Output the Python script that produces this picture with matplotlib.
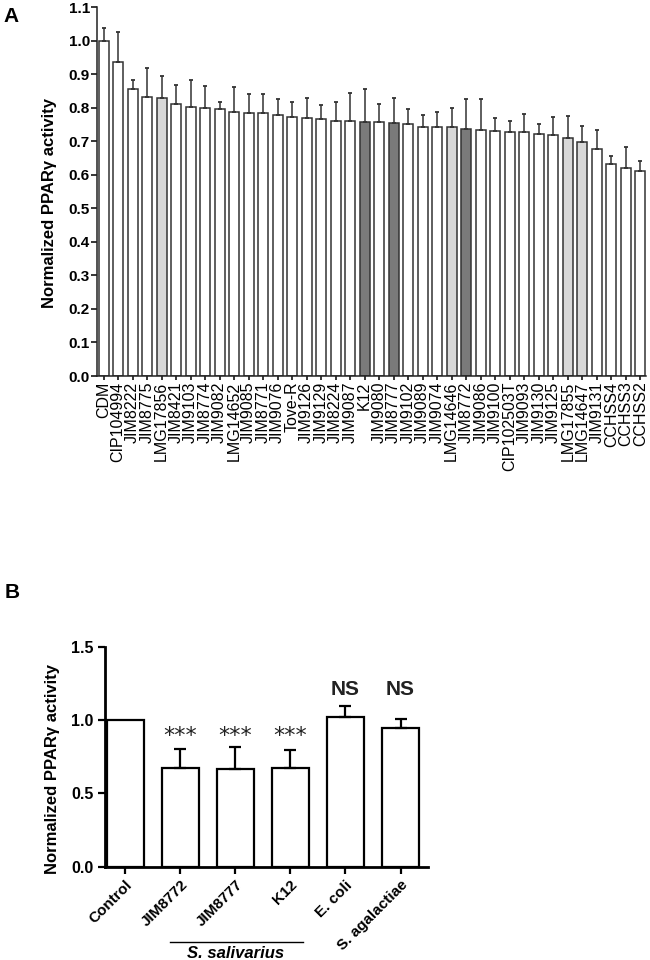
import numpy as np
import matplotlib
matplotlib.use("Agg")
import matplotlib.pyplot as plt

plt.rcParams["font.family"] = ["Liberation Sans", "DejaVu Sans"]

# panel A data
strains = ["CDM", "CIP104994", "JIM8222", "JIM8775", "LMG17856", "JIM8421", "JIM9103",
           "JIM8774", "JIM9082", "LMG14652", "JIM9085", "JIM8771", "JIM9076", "Tove-R",
           "JIM9126", "JIM9129", "JIM8224", "JIM9087", "K12", "JIM9080", "JIM8777",
           "JIM9102", "JIM9089", "JIM9074", "LMG14646", "JIM8772", "JIM9086", "JIM9100",
           "CIP102503T", "JIM9093", "JIM9130", "JIM9125", "LMG17855", "LMG14647",
           "JIM9131", "CCHSS4", "CCHSS3", "CCHSS2"]
activity_a = [1.000, 0.937, 0.856, 0.831, 0.828, 0.812, 0.802, 0.800, 0.796, 0.788,
              0.784, 0.784, 0.777, 0.773, 0.769, 0.765, 0.760, 0.760, 0.758, 0.757,
              0.754, 0.751, 0.743, 0.743, 0.741, 0.737, 0.734, 0.731, 0.728, 0.727,
              0.720, 0.719, 0.710, 0.698, 0.677, 0.632, 0.621, 0.611]
err_top_a = [1.038, 1.025, 0.881, 0.917, 0.893, 0.867, 0.883, 0.865, 0.817, 0.861,
             0.840, 0.842, 0.826, 0.817, 0.828, 0.808, 0.816, 0.844, 0.856, 0.812,
             0.830, 0.797, 0.777, 0.786, 0.800, 0.826, 0.825, 0.770, 0.759, 0.781,
             0.752, 0.772, 0.775, 0.745, 0.732, 0.657, 0.682, 0.640]
dark_strains = ["K12", "JIM8777", "JIM8772"]
light_strains = ["LMG17856", "LMG14646", "LMG17855", "LMG14647"]

# panel B data
groups_b = ["Control", "JIM8772", "JIM8777", "K12", "E. coli", "S. agalactiae"]
activity_b = [1.0, 0.675, 0.666, 0.675, 1.023, 0.948]
sem_b = [0.0, 0.130, 0.152, 0.118, 0.072, 0.059]
signif_b = ["", "***", "***", "***", "NS", "NS"]

fig = plt.figure(figsize=(6.5, 9.6), dpi=100)

# ---------------- Panel A ----------------
axA = fig.add_axes([0.149, 0.6083, 0.845, 0.3844])
xa = np.arange(len(strains))
colors = []
for s in strains:
    if s in dark_strains:
        colors.append("#7a7a7a")
    elif s in light_strains:
        colors.append("#d8d8d8")
    else:
        colors.append("white")
errs = np.array(err_top_a) - np.array(activity_a)
axA.bar(xa, activity_a, width=0.69, color=colors, edgecolor="#333333", linewidth=1.1)
axA.errorbar(xa, activity_a, yerr=[np.zeros(len(errs)), errs], fmt="none",
             ecolor="#333333", elinewidth=1.1, capsize=1.6, capthick=1.3)
axA.set_xlim(-0.46, len(strains) - 1 + 0.4)
axA.set_ylim(0, 1.1)
axA.set_yticks(np.arange(0, 1.11, 0.1))
axA.set_yticklabels([f"{v:.1f}" for v in np.arange(0, 1.11, 0.1)],
                    fontsize=11, fontweight="bold")
axA.set_xticks(xa)
axA.set_xticklabels(strains, rotation=90, fontsize=11.5)
axA.tick_params(axis="y", length=4, width=1.1, pad=1)
axA.tick_params(axis="x", length=3, width=1.1, pad=1)
for sp in ["top", "right"]:
    axA.spines[sp].set_visible(False)
for sp in ["left", "bottom"]:
    axA.spines[sp].set_linewidth(1.1)
    axA.spines[sp].set_color("#222222")
axA.set_ylabel("Normalized PPARγ activity", fontsize=12, fontweight="bold", va="center")
axA.yaxis.set_label_coords(-0.086, 0.469)
fig.text(11 / 650, 1 - 16 / 960, "A", fontsize=15, fontweight="bold",
         ha="center", va="center")

# ---------------- Panel B ----------------
axB = fig.add_axes([0.1615, 0.0972, 0.497, 0.2292])
xb = np.arange(len(groups_b))
axB.bar(xb, activity_b, width=0.67, color="white", edgecolor="black", linewidth=1.6)
axB.errorbar(xb[1:], activity_b[1:], yerr=[np.zeros(len(sem_b) - 1), sem_b[1:]],
             fmt="none", ecolor="black", elinewidth=1.6, capsize=4.5, capthick=1.6)
axB.set_xlim(-0.37, 5.5)
axB.set_ylim(0, 1.5)
axB.set_yticks([0, 0.5, 1.0, 1.5])
axB.set_yticklabels(["0.0", "0.5", "1.0", "1.5"], fontsize=11.5, fontweight="bold")
axB.set_xticks(xb)
axB.set_xticklabels(groups_b, rotation=45, ha="right", rotation_mode="anchor",
                    fontsize=11, fontweight="bold")
axB.tick_params(axis="both", length=5, width=1.6, pad=3)
for sp in ["top", "right"]:
    axB.spines[sp].set_visible(False)
for sp in ["left", "bottom"]:
    axB.spines[sp].set_linewidth(2.0)
axB.set_ylabel("Normalized PPARγ activity", fontsize=12, fontweight="bold", va="center")
axB.yaxis.set_label_coords(-0.161, 0.446)

# significance marks sit on one common level per kind
for x, s in zip(xb, signif_b):
    if s == "***":
        axB.text(x, 0.85, s, ha="center", va="baseline", fontsize=16,
                 family="DejaVu Sans", color="#222222")
    elif s == "NS":
        axB.text(x, 1.17, s, ha="center", va="baseline", fontsize=15,
                 fontweight="bold", color="#222222")

# bracket for S. salivarius strains
axB.plot([0.82, 3.22], [-0.515, -0.515], color="black", lw=1.0, clip_on=False,
         transform=axB.transData)
axB.text(2.0, -0.54, "S. salivarius", ha="center", va="top", fontsize=12,
         fontweight="bold", fontstyle="italic", transform=axB.transData)
fig.text(12 / 650, 1 - 592 / 960, "B", fontsize=15, fontweight="bold",
         ha="center", va="center")

fig.savefig("out.png", dpi=100)
